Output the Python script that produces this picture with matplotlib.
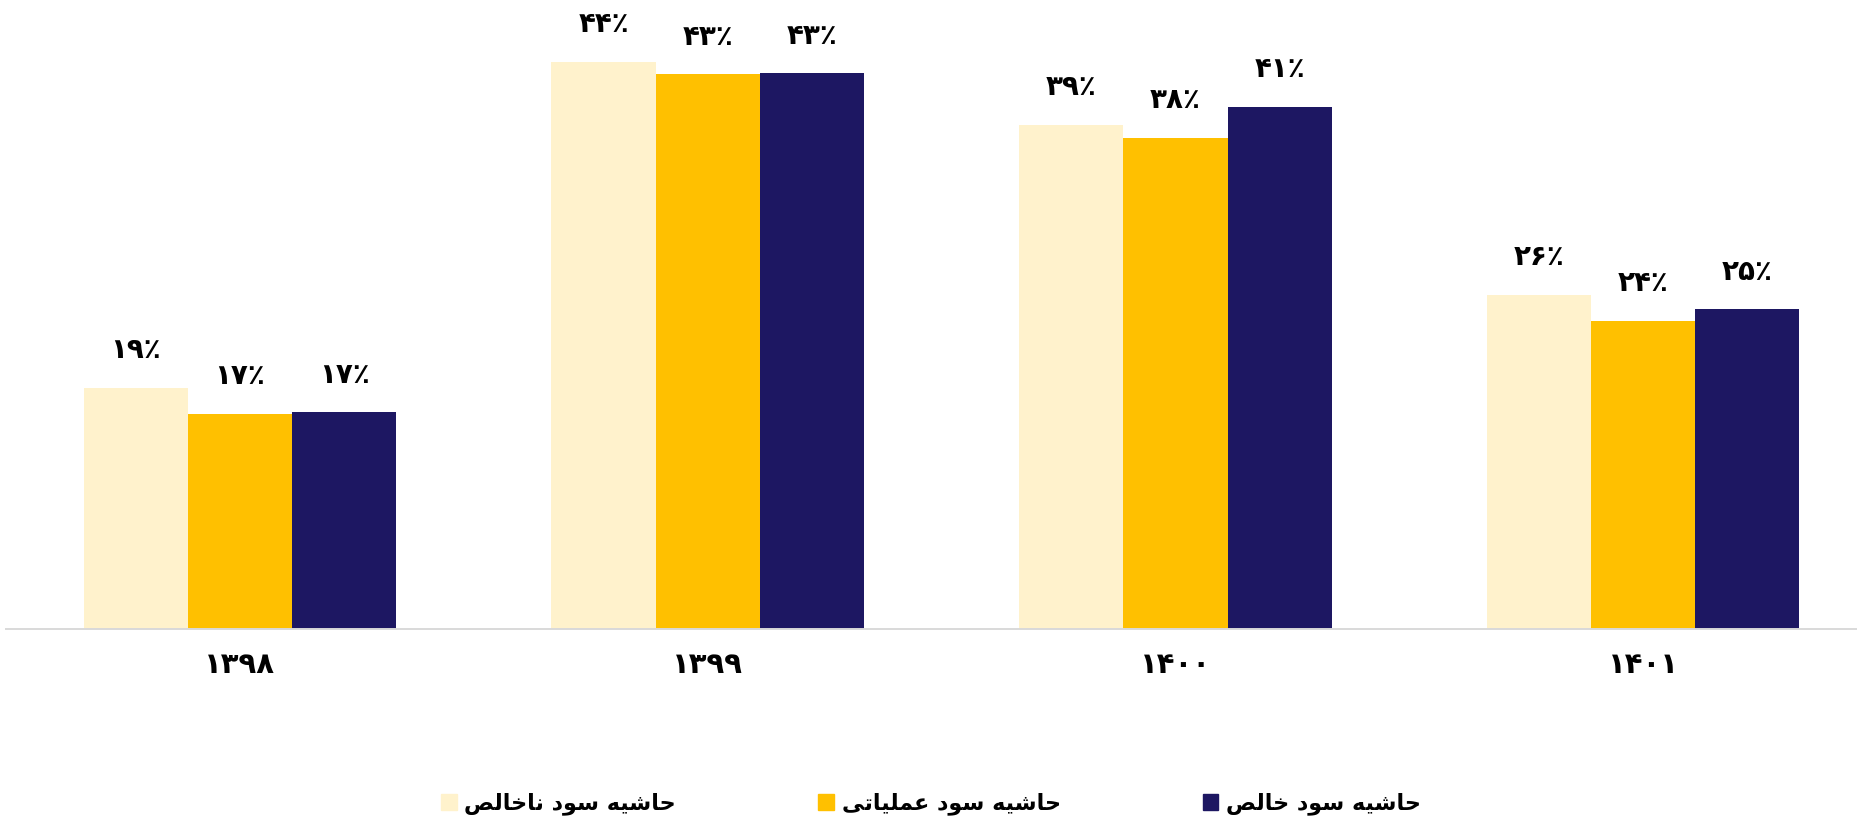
import numpy as np
import matplotlib
matplotlib.use("Agg")
import matplotlib.pyplot as plt
from matplotlib.patches import Patch

years = ["۱۳۹۸", "۱۳۹۹", "۱۴۰۰", "۱۴۰۱"]
series_names = ["حاشیه سود ناخالص", "حاشیه سود عملیاتی", "حاشیه سود خالص"]

# bar heights (percent), labels are the printed rounded values
gross_margin = [18.7, 44.0, 39.1, 25.9]
operating_margin = [16.7, 43.0, 38.1, 23.9]
net_margin = [16.8, 43.1, 40.5, 24.8]
gross_labels = [19, 44, 39, 26]
operating_labels = [17, 43, 38, 24]
net_labels = [17, 43, 41, 25]

colors = ["#FFF2CC", "#FFC000", "#1D1762"]

# matplotlib has no arabic shaping, so pick presentation forms by hand
# (isolated, final, initial, medial)
FORMS = {
    "ا": ("\ufe8d", "\ufe8e", None, None),
    "ت": ("\ufe95", "\ufe96", "\ufe97", "\ufe98"),
    "ح": ("\ufea1", "\ufea2", "\ufea3", "\ufea4"),
    "خ": ("\ufea5", "\ufea6", "\ufea7", "\ufea8"),
    "د": ("\ufea9", "\ufeaa", None, None),
    "س": ("\ufeb1", "\ufeb2", "\ufeb3", "\ufeb4"),
    "ش": ("\ufeb5", "\ufeb6", "\ufeb7", "\ufeb8"),
    "ص": ("\ufeb9", "\ufeba", "\ufebb", "\ufebc"),
    "ع": ("\ufec9", "\ufeca", "\ufecb", "\ufecc"),
    "ل": ("\ufedd", "\ufede", "\ufedf", "\ufee0"),
    "م": ("\ufee1", "\ufee2", "\ufee3", "\ufee4"),
    "ن": ("\ufee5", "\ufee6", "\ufee7", "\ufee8"),
    "ه": ("\ufee9", "\ufeea", "\ufeeb", "\ufeec"),
    "و": ("\ufeed", "\ufeee", None, None),
    "ی": ("\ufbfc", "\ufbfd", "\ufbfe", "\ufbff"),
}


def shape(text):
    out = []
    for i, ch in enumerate(text):
        if ch not in FORMS:
            out.append(ch)
            continue
        prev = text[i - 1] if i > 0 else ""
        nxt = text[i + 1] if i + 1 < len(text) else ""
        join_prev = prev in FORMS and FORMS[prev][2] is not None
        join_next = FORMS[ch][2] is not None and nxt in FORMS
        iso, fin, ini, med = FORMS[ch]
        if join_prev and join_next:
            out.append(med)
        elif join_prev:
            out.append(fin)
        elif join_next:
            out.append(ini)
        else:
            out.append(iso)
    return "".join(reversed(out))


def fa_pct(n):
    return str(n).translate(str.maketrans("0123456789", "۰۱۲۳۴۵۶۷۸۹")) + "٪"


plt.rcParams["font.family"] = ["DejaVu Sans"]
plt.rcParams["font.weight"] = "bold"

fig = plt.figure(figsize=(18.57, 8.22), dpi=100)
ax = fig.add_axes([6 / 1857, 193 / 822, 1 - 6 / 1857, 619 / 822])

x = np.arange(len(years))
w = 0.2227
series = [gross_margin, operating_margin, net_margin]
labels = [gross_labels, operating_labels, net_labels]
for k, (vals, labs) in enumerate(zip(series, labels)):
    bars = ax.bar(x + (k - 1) * w, vals, width=w, color=colors[k], label=shape(series_names[k]))
    for b, lab in zip(bars, labs):
        ax.annotate(fa_pct(lab), (b.get_x() + b.get_width() / 2, b.get_height()),
                    xytext=(0, 27), textcoords="offset points",
                    ha="center", va="center", fontsize=20, fontweight="bold")

ax.set_xlim(-0.5, 3.457)
ax.set_ylim(0, 48)
ax.set_yticks([])
ax.set_xticks(x)
ax.set_xticklabels(years, fontsize=21, fontweight="bold")
ax.tick_params(axis="x", length=0, pad=16)
for s in ["top", "left", "right"]:
    ax.spines[s].set_visible(False)
ax.spines["bottom"].set_color("#D9D9D9")
ax.spines["bottom"].set_linewidth(1.4)

handles = [Patch(color=c) for c in colors]
fig.legend(handles, [shape(n) for n in series_names], loc="center", ncol=3,
           bbox_to_anchor=(0.5014, 1 - 804 / 822), frameon=False,
           fontsize=16, handlelength=0.7, handleheight=0.7,
           handletextpad=0.35, columnspacing=6.4)

fig.savefig("out.png", dpi=100)
